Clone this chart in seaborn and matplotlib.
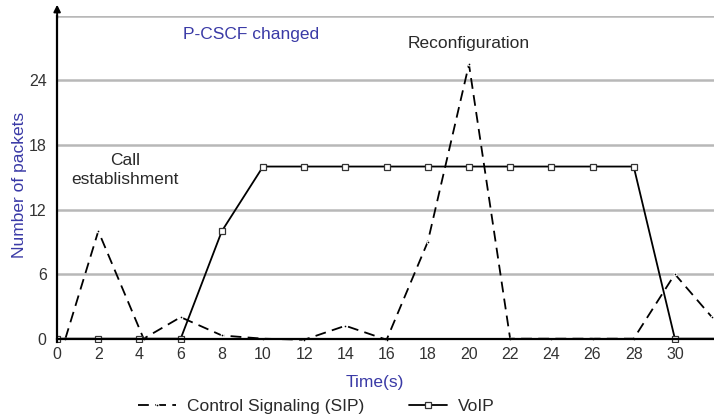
import matplotlib
matplotlib.use("Agg")
import matplotlib.pyplot as plt
import seaborn as sns

# ===================
# Data
# ===================
sip_time = [0.4, 2, 4.2, 6, 8, 10, 12, 14, 16, 18, 20, 22, 24, 26, 28, 30, 31.8]
sip_packets = [0, 10, 0, 2, 0.3, 0, -0.1, 1.2, -0.1, 9, 25.5, 0, 0, 0, 0, 6, 2]

voip_time = [0, 2, 4, 6, 8, 10, 12, 14, 16, 18, 20, 22, 24, 26, 28, 30, 31.9]
voip_packets = [0, 0, 0, 0, 10, 16, 16, 16, 16, 16, 16, 16, 16, 16, 16, 0, 0]

x_ticks = list(range(0, 31, 2))
y_ticks = [0, 6, 12, 18, 24]
grid_levels = [6, 12, 18, 24, 30]

BLUE = "#3a3aa6"
TEXT = "#2a2a2a"
FS = 12.5

sns.set_style("white")
plt.rcParams["font.family"] = ["Liberation Sans", "DejaVu Sans"]

fig = plt.figure(figsize=(7.14, 4.19), dpi=100)
ax = fig.add_axes([0.080, 0.184, 0.92, 0.778])

for lvl in grid_levels:
    ax.axhline(lvl, color="#b8b8b8", lw=1.8, zorder=0)

sns.lineplot(x=sip_time, y=sip_packets, ax=ax, color="black", lw=1.3,
             linestyle=(0, (6, 3.5)), marker=".", markersize=4,
             label="Control Signaling (SIP)", legend=False)
sns.lineplot(x=voip_time, y=voip_packets, ax=ax, color="black", lw=1.3,
             marker="s", markersize=4, markerfacecolor="white",
             markeredgecolor="#333333", markeredgewidth=0.9,
             markevery=list(range(16)), label="VoIP", legend=False)

ax.set_xlim(0, 31.9)
ax.set_ylim(-0.3, 30)
ax.set_xticks(x_ticks)
ax.set_yticks(y_ticks)
ax.tick_params(axis="both", labelsize=11.5, colors="#333333", length=4,
               width=1, direction="out")
ax.tick_params(axis="x", length=0, pad=6)

for s in ["top", "right"]:
    ax.spines[s].set_visible(False)
ax.spines["left"].set_color("black")
ax.spines["left"].set_linewidth(1.6)
ax.spines["bottom"].set_color("black")
ax.spines["bottom"].set_linewidth(1.6)
ax.spines["bottom"].set_position(("data", 0))

# arrow on top of y-axis
ax.annotate("", xy=(0, 31.3), xytext=(0, 29.5), xycoords="data",
            arrowprops=dict(arrowstyle="-|>", color="black", lw=1.4,
                            mutation_scale=10), annotation_clip=False)

ax.set_xlabel("Time(s)", color=BLUE, fontsize=FS)
ax.set_ylabel("Number of packets", color=BLUE, fontsize=FS)
ax.xaxis.set_label_coords(0.484, -0.126)
ax.yaxis.set_label_coords(-0.057, 0.48)
ax.xaxis.label.set_va("center")
ax.yaxis.label.set_va("center")

ax.text(9.4, 28.3, "P-CSCF changed", color=BLUE, fontsize=FS,
        ha="center", va="center")
ax.text(20.0, 27.4, "Reconfiguration", color=TEXT, fontsize=FS,
        ha="center", va="center")
ax.text(3.3, 15.7, "Call\nestablishment", color=TEXT, fontsize=FS,
        ha="center", va="center", linespacing=1.3)

handles, labels = ax.get_legend_handles_labels()
fig.legend(handles, labels, loc="center", bbox_to_anchor=(0.443, 0.03),
           ncol=2, frameon=False, fontsize=FS, handlelength=2.2,
           columnspacing=2.6, handletextpad=0.6, labelcolor=TEXT)

fig.savefig("out.png", dpi=100)
